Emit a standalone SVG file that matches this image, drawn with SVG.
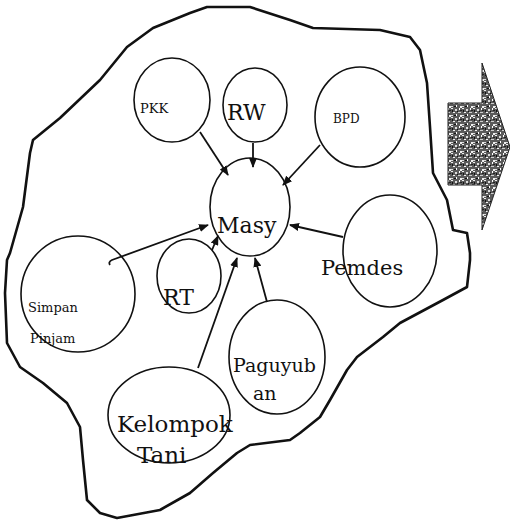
<svg xmlns="http://www.w3.org/2000/svg" width="510" height="523" viewBox="0 0 510 523">
<defs>
<style>
.n{fill:none;stroke:#111;stroke-width:1.6}
.t{font-family:"DejaVu Serif","Liberation Serif",serif;fill:#111}
.c{stroke:#111;stroke-width:1.8;fill:none}
</style>
<marker id="ah" markerUnits="userSpaceOnUse" markerWidth="10" markerHeight="8" refX="9" refY="4" orient="auto">
<path d="M0,0 L10,4 L0,8 z" fill="#111"/>
</marker>
<pattern id="stip" width="11" height="9" patternUnits="userSpaceOnUse">
<rect width="11" height="9" fill="#5a5a5a"/>
<rect x="0" y="0" width="2" height="1" fill="#eee"/>
<rect x="4" y="1" width="2" height="2" fill="#ddd"/>
<rect x="8" y="0" width="1" height="2" fill="#fff"/>
<rect x="2" y="4" width="2" height="1" fill="#f4f4f4"/>
<rect x="7" y="4" width="3" height="1" fill="#ccc"/>
<rect x="5" y="6" width="1" height="2" fill="#fff"/>
<rect x="0" y="7" width="2" height="1" fill="#ddd"/>
<rect x="9" y="7" width="2" height="2" fill="#eee"/>
<rect x="6" y="3" width="1" height="1" fill="#111"/>
<rect x="1" y="2" width="1" height="2" fill="#111"/>
<rect x="9" y="2" width="2" height="1" fill="#222"/>
<rect x="3" y="7" width="2" height="1" fill="#111"/>
</pattern>
</defs>
<rect width="510" height="523" fill="#fff"/>
<g id="boundary">
<path d="M33,140 L60,118 L100,80 L127,47 L153,28 L190,13 L207,7 L250,7 L290,20 L313,28 L380,30 L410,37 L420,50 L427,83 L430,127 L433,173 L447,200 L453,230 L467,233 L470,253 L470,260 L467,287 L443,300 L400,323 L383,337 L357,357 L347,370 L330,400 L320,417 L300,433 L290,440 L250,445 L237,453 L213,473 L190,493 L160,510 L117,518 L100,513 L87,500 L83,460 L80,427 L67,403 L43,383 L20,367 L7,343 L5,293 L7,260 L10,253 L23,207 L30,153 Z" fill="none" stroke="#111" stroke-width="2.6" stroke-linejoin="round"/>
</g>
<g id="bigarrow">
<path d="M448,103 L482,103 L482,63 L510,147 L482,230 L482,185 L448,185 Z" fill="url(#stip)" stroke="#222" stroke-width="1"/>
</g>
<g id="connectors">
<line class="c" x1="200" y1="132" x2="228" y2="175" marker-end="url(#ah)"/>
<line class="c" x1="253" y1="143" x2="253" y2="167" marker-end="url(#ah)"/>
<line class="c" x1="320" y1="145" x2="283" y2="185" marker-end="url(#ah)"/>
<line class="c" x1="343" y1="237" x2="290" y2="225" marker-end="url(#ah)"/>
<path class="c" d="M110,265 Q108,262 112,260 L208,225" marker-end="url(#ah)"/>
<line class="c" x1="212" y1="250" x2="218" y2="236" marker-end="url(#ah)"/>
<line class="c" x1="198" y1="368" x2="237" y2="258" marker-end="url(#ah)"/>
<line class="c" x1="267" y1="302" x2="255" y2="258" marker-end="url(#ah)"/>
</g>
<g id="pkk"><ellipse class="n" cx="172" cy="100" rx="38" ry="42"/><text class="t" x="140" y="113" font-size="13">PKK</text></g>
<g id="rw"><ellipse class="n" cx="255" cy="105" rx="32" ry="37"/><text class="t" x="227" y="120" font-size="22">RW</text></g>
<g id="bpd"><ellipse class="n" cx="360" cy="117" rx="45" ry="50"/><text class="t" x="333" y="123" font-size="12">BPD</text></g>
<g id="masy"><ellipse class="n" cx="250" cy="207" rx="40" ry="49"/><text class="t" x="217" y="233" font-size="22">Masy</text></g>
<g id="pemdes"><ellipse class="n" cx="390" cy="251" rx="47" ry="56"/><text class="t" x="321" y="275" font-size="21">Pemdes</text></g>
<g id="simpan"><ellipse class="n" cx="78" cy="294" rx="57" ry="58"/><text class="t" x="28" y="312" font-size="13">Simpan</text><text class="t" x="30" y="343" font-size="13">Pinjam</text></g>
<g id="rt"><ellipse class="n" cx="189" cy="276" rx="32" ry="37"/><text class="t" x="163" y="305" font-size="22">RT</text></g>
<g id="paguyuban"><ellipse class="n" cx="277" cy="357" rx="48" ry="57"/><text class="t" x="233" y="372" font-size="19">Paguyub</text><text class="t" x="253" y="400" font-size="19">an</text></g>
<g id="kelompok"><ellipse class="n" cx="169" cy="415" rx="61" ry="48"/><text class="t" x="117" y="432" font-size="23">Kelompok</text><text class="t" x="137" y="463" font-size="23">Tani</text></g>
</svg>
